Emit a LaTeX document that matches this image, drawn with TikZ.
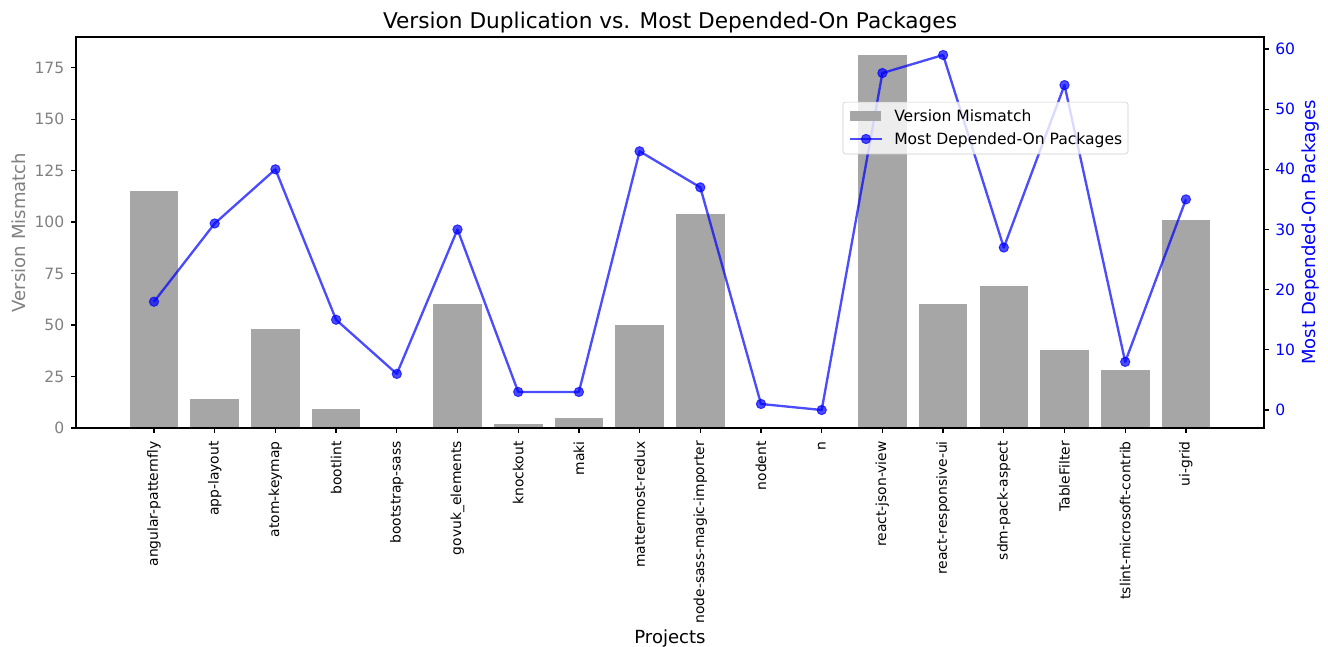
\documentclass[tikz,border=0pt]{standalone}
\usepackage{fontspec}
\setmainfont{DejaVu Sans}
\usepackage{xcolor}
\usetikzlibrary{positioning}

\definecolor{bargray}{HTML}{A6A6A6}
\definecolor{axisgray}{HTML}{808080}
\definecolor{legendedge}{HTML}{CCCCCC}
\newcommand{\tickfont}{\fontsize{11.2}{13}\selectfont}
\newcommand{\xtickfont}{\fontsize{10}{12}\selectfont}
\newcommand{\axlabelfont}{\fontsize{13}{15}\selectfont}
\newcommand{\charttitlefont}{\fontsize{15.6}{18}\selectfont}

\begin{document}
\begin{tikzpicture}[x=0.72pt,y=-0.72pt,
    bar/.style={fill=bargray},
    depline/.style={draw=blue,opacity=0.7,line width=1.68pt,line join=round},
    dot/.style={circle,inner sep=0pt,minimum size=6.7pt,fill=blue,draw=blue,line width=0.7pt,fill opacity=0.7,draw opacity=0.7},
    ticklbl/.style={font=\tickfont,inner sep=0pt},
    legbox/.style={draw=legendedge,fill=white,fill opacity=0.8,rounded corners=2pt,minimum width=205.2pt,minimum height=37.4pt,inner sep=0pt}]
    \useasboundingbox (0,0) rectangle (1328,647);
    % bars, x ticks and the line points
    \foreach \name/\bv/\lv [count=\i from 0] in {angular-patternfly/115/18,app-layout/14/31,atom-keymap/48/40,bootlint/9/15,bootstrap-sass/0/6,govuk\_elements/60/30,knockout/2/3,maki/5/3,mattermost-redux/50/43,node-sass-magic-importer/104/37,nodent/0/1,n/0/0,react-json-view/181/56,react-responsive-ui/60/59,sdm-pack-aspect/69/27,TableFilter/38/54,tslint-microsoft-contrib/28/8,ui-grid/101/35}{
        \pgfmathsetmacro{\cx}{154+60.7*\i}
        \fill[bar] (\cx-24.3,428) rectangle (\cx+24.3,{428-2.0588*\bv});
        \coordinate (p\i) at (\cx,{410-6.017*\lv});
        \draw[line width=0.9pt] (\cx,428) -- (\cx,433);
        \node[ticklbl,font=\xtickfont,rotate=90,anchor=east] (x\i) at (\cx,441) {\name};
    }
    \draw[depline] (p0) \foreach \i in {1,...,17}{ -- (p\i)};
    \foreach \i in {0,...,17}
        \node[dot] (m\i) at (p\i) {};
    % axes
    \draw[line width=0.9pt] (76,37) rectangle (1264,428);
    \foreach \v in {0,25,...,175}{
        \draw[line width=0.9pt] (76,{428-2.0588*\v}) -- (71,{428-2.0588*\v});
        \node[ticklbl,anchor=east,text=axisgray] (yl\v) at (64.5,{428-2.0588*\v}) {\v};
    }
    \foreach \v in {0,10,...,60}{
        \draw[line width=0.9pt] (1264,{410-6.017*\v}) -- (1269,{410-6.017*\v});
        \node[ticklbl,anchor=west,text=blue] (yr\v) at (1275,{410-6.017*\v}) {\v};
    }
    \node[font=\charttitlefont,anchor=base,inner sep=0pt] (title) at (670,28) {Version Duplication vs. Most Depended-On Packages};
    \node[font=\axlabelfont,anchor=base,inner sep=0pt] (xlabel) at (670,643) {Projects};
    \node[font=\axlabelfont,anchor=base,rotate=90,text=axisgray,inner sep=0pt] (ylabel) at (25,232.5) {Version Mismatch};
    \node[font=\axlabelfont,anchor=base,rotate=90,text=blue,inner sep=0pt] (y2label) at (1315,232.5) {Most Depended-On Packages};
    % legend
    \node[legbox] (leg) at (985.5,128) {};
    \fill[bar] (850,111) rectangle (881,121);
    \node[ticklbl,anchor=base west] (legbartxt) at (894,121.5) {Version Mismatch};
    \coordinate (la) at (850,139);
    \coordinate (lb) at (882,139);
    \draw[depline] (la) -- (lb);
    \node[dot] (legdot) at (866,139) {};
    \node[ticklbl,anchor=base west] (leglinetxt) at (894,144) {Most Depended-On Packages};
\end{tikzpicture}
\end{document}
